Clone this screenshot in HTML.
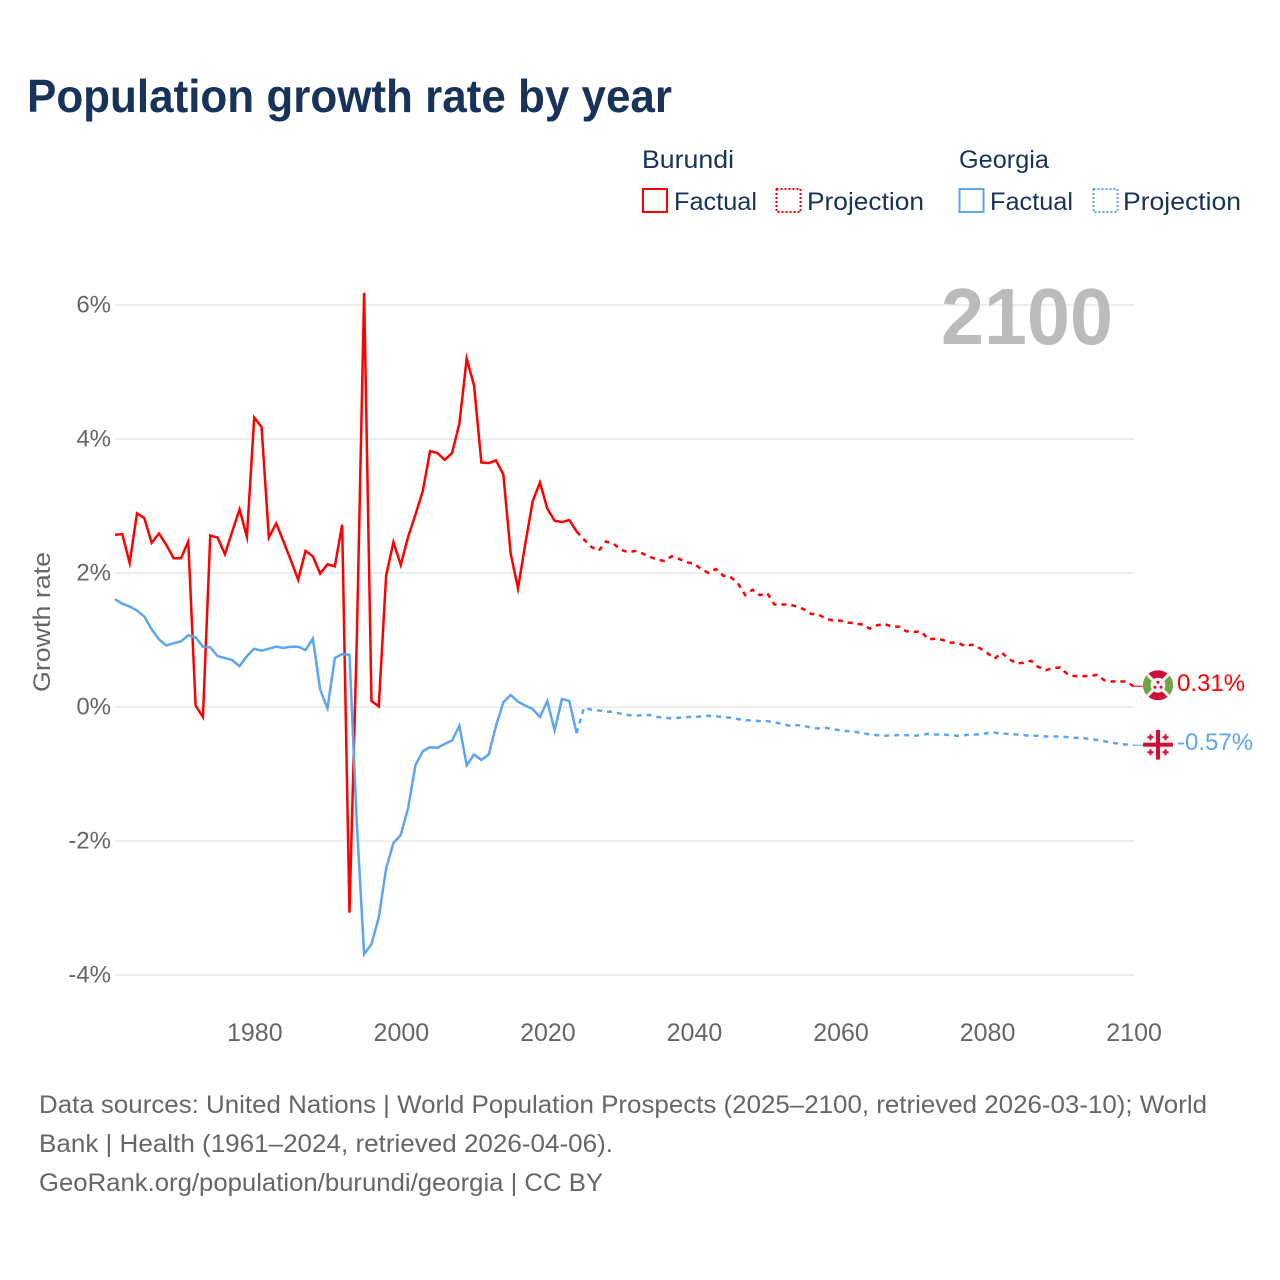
<!DOCTYPE html>
<html lang="en">
<head>
<meta charset="utf-8">
<title>Population growth rate by year</title>
<style>
  html, body { margin: 0; padding: 0; background: #fff; }
  svg { display: block; font-family: "Liberation Sans", sans-serif; }
</style>
</head>
<body>
<svg id="chart" xmlns="http://www.w3.org/2000/svg" width="1280" height="1280" viewBox="0 0 1280 1280">
  <rect x="0" y="0" width="1280" height="1280" fill="#ffffff"/>
  <text x="27" y="112" font-size="46" font-weight="700" fill="#17335a" textLength="645" lengthAdjust="spacingAndGlyphs">Population growth rate by year</text>

  <g font-size="25" fill="#17335a">
    <text x="642" y="168" textLength="92" lengthAdjust="spacingAndGlyphs">Burundi</text>
    <text x="959" y="168" textLength="90" lengthAdjust="spacingAndGlyphs">Georgia</text>
    <g>
      <rect x="643" y="189" width="24" height="23" fill="none" stroke="#ff0000" stroke-width="2"/>
      <text x="674" y="210" textLength="83" lengthAdjust="spacingAndGlyphs">Factual</text>
    </g>
    <g>
      <rect x="776.5" y="189" width="24" height="23" fill="none" stroke="#ff0000" stroke-width="2" stroke-dasharray="2 2"/>
      <text x="807" y="210" textLength="117" lengthAdjust="spacingAndGlyphs">Projection</text>
    </g>
    <g>
      <rect x="959.5" y="189" width="24" height="23" fill="none" stroke="#5da5ee" stroke-width="2"/>
      <text x="990" y="210" textLength="83" lengthAdjust="spacingAndGlyphs">Factual</text>
    </g>
    <g>
      <rect x="1093.5" y="189" width="24" height="23" fill="none" stroke="#5da5ee" stroke-width="2" stroke-dasharray="2 2"/>
      <text x="1123" y="210" textLength="118" lengthAdjust="spacingAndGlyphs">Projection</text>
    </g>
  </g>

  <g id="grid"></g>
  <g id="y-ticks"></g>
  <g id="x-ticks"></g>
  <text transform="translate(50,622) rotate(-90)" text-anchor="middle" font-size="24" fill="#666666" textLength="140" lengthAdjust="spacingAndGlyphs">Growth rate</text>
  <text x="941" y="344" font-size="80" font-weight="700" fill="#bbbbbb" textLength="172" lengthAdjust="spacingAndGlyphs">2100</text>

  <g id="series"></g>

  <defs>
    <clipPath id="flag-clip"><circle cx="0" cy="0" r="15"/></clipPath>
  </defs>
  <g id="flag-burundi">
    <g clip-path="url(#flag-clip)">
      <rect x="-15" y="-15" width="30" height="30" fill="#ce1038"/>
      <polygon points="-15,-15 0,0 -15,15" fill="#6da544"/>
      <polygon points="15,-15 0,0 15,15" fill="#6da544"/>
      <line x1="-15" y1="-15" x2="15" y2="15" stroke="#f0f0f0" stroke-width="3"/>
      <line x1="-15" y1="15" x2="15" y2="-15" stroke="#f0f0f0" stroke-width="3"/>
      <circle cx="0" cy="0" r="7.5" fill="#f0f0f0"/>
      <circle cx="0" cy="-3" r="1.5" fill="#ce1038"/>
      <circle cx="-3" cy="2" r="1.5" fill="#ce1038"/>
      <circle cx="3" cy="2" r="1.5" fill="#ce1038"/>
    </g>
  </g>
  <g id="flag-georgia">
    <g clip-path="url(#flag-clip)">
      <rect x="-15" y="-15" width="30" height="30" fill="#f0f0f0"/>
      <rect x="-15" y="-2" width="30" height="4" fill="#ce1038"/>
      <rect x="-2" y="-15" width="4" height="30" fill="#ce1038"/>
      <path d="M-8.5 -10.5h2v2h2v2h-2v2h-2v-2h-2v-2h2z" fill="#ce1038"/>
      <path d="M6.5 -10.5h2v2h2v2h-2v2h-2v-2h-2v-2h2z" fill="#ce1038"/>
      <path d="M-8.5 4.5h2v2h2v2h-2v2h-2v-2h-2v-2h2z" fill="#ce1038"/>
      <path d="M6.5 4.5h2v2h2v2h-2v2h-2v-2h-2v-2h2z" fill="#ce1038"/>
    </g>
  </g>
  <g id="end-labels"></g>

  <g font-size="25" fill="#666666">
    <text x="39" y="1113" textLength="1168" lengthAdjust="spacingAndGlyphs">Data sources: United Nations | World Population Prospects (2025–2100, retrieved 2026-03-10); World</text>
    <text x="39" y="1152" textLength="574" lengthAdjust="spacingAndGlyphs">Bank | Health (1961–2024, retrieved 2026-04-06).</text>
    <a><text x="39" y="1191" textLength="564" lengthAdjust="spacingAndGlyphs">GeoRank.org/population/burundi/georgia | CC BY</text></a>
  </g>
</svg>

<script>
const yTicks = [6, 4, 2, 0, -2, -4];
const xTicks = [1980, 2000, 2020, 2040, 2060, 2080, 2100];
const factualStart = 1961;
const projectionStart = 2024;

const burundiFactual = [
  2.57, 2.58, 2.15, 2.89, 2.82, 2.45, 2.59, 2.42, 2.22, 2.22,
  2.47, 0.02, -0.15, 2.56, 2.53, 2.28, 2.62, 2.95, 2.54, 4.32,
  4.18, 2.53, 2.74, 2.47, 2.19, 1.90, 2.33, 2.25, 1.99, 2.13,
  2.10, 2.72, -3.07, 1.00, 6.18, 0.09, 0.01, 1.96, 2.46, 2.12,
  2.54, 2.87, 3.22, 3.82, 3.79, 3.69, 3.79, 4.23, 5.20, 4.80,
  3.65, 3.64, 3.68, 3.47, 2.29, 1.77, 2.44, 3.07, 3.35, 2.96,
  2.78, 2.76, 2.79, 2.62
];
const burundiProjection = [
  2.62, 2.50, 2.39, 2.33, 2.47, 2.44, 2.35, 2.31, 2.33, 2.29,
  2.24, 2.20, 2.18, 2.25, 2.21, 2.16, 2.14, 2.06, 2.00, 2.06,
  1.96, 1.94, 1.85, 1.67, 1.75, 1.67, 1.70, 1.53, 1.53, 1.53,
  1.50, 1.46, 1.39, 1.38, 1.32, 1.29, 1.29, 1.26, 1.25, 1.23,
  1.17, 1.22, 1.24, 1.20, 1.20, 1.13, 1.12, 1.13, 1.01, 1.02,
  1.00, 0.96, 0.96, 0.91, 0.93, 0.88, 0.81, 0.72, 0.81, 0.72,
  0.65, 0.66, 0.69, 0.60, 0.55, 0.58, 0.59, 0.49, 0.46, 0.46,
  0.46, 0.48, 0.40, 0.38, 0.38, 0.38, 0.31
];
const georgiaFactual = [
  1.61, 1.54, 1.50, 1.44, 1.35, 1.16, 1.01, 0.92, 0.95, 0.98,
  1.07, 1.04, 0.90, 0.89, 0.76, 0.73, 0.70, 0.61, 0.76, 0.87,
  0.84, 0.87, 0.90, 0.88, 0.90, 0.90, 0.85, 1.02, 0.26, -0.02,
  0.73, 0.79, 0.78, -1.73, -3.69, -3.54, -3.14, -2.41, -2.03, -1.91,
  -1.51, -0.87, -0.66, -0.60, -0.61, -0.55, -0.50, -0.28, -0.87, -0.71,
  -0.79, -0.71, -0.28, 0.07, 0.18, 0.08, 0.02, -0.03, -0.15, 0.09,
  -0.35, 0.12, 0.09, -0.39
];
const georgiaProjection = [
  -0.39, -0.01, -0.04, -0.05, -0.07, -0.07, -0.10, -0.12, -0.13, -0.12,
  -0.12, -0.15, -0.16, -0.17, -0.16, -0.15, -0.15, -0.14, -0.13, -0.14,
  -0.15, -0.16, -0.18, -0.20, -0.20, -0.21, -0.21, -0.23, -0.25, -0.28,
  -0.27, -0.28, -0.31, -0.32, -0.31, -0.33, -0.35, -0.36, -0.37, -0.39,
  -0.41, -0.42, -0.43, -0.42, -0.42, -0.42, -0.43, -0.42, -0.40, -0.41,
  -0.41, -0.42, -0.43, -0.42, -0.41, -0.41, -0.39, -0.38, -0.40, -0.40,
  -0.41, -0.42, -0.43, -0.43, -0.44, -0.44, -0.44, -0.45, -0.46, -0.46,
  -0.48, -0.49, -0.51, -0.53, -0.55, -0.56, -0.57
];
const burundiEndLabel = "0.31%";
const georgiaEndLabel = "-0.57%";

const NS = "http://www.w3.org/2000/svg";
const xOf = function (year) { return 115 + (year - 1961) * (1133.5 - 115) / (2100 - 1961); };
const yOf = function (value) { return 707 - value * 67; };

function make(tag, parentId) {
  const el = document.createElementNS(NS, tag);
  document.getElementById(parentId).appendChild(el);
  return el;
}

function linePath(values, startYear) {
  return values.map(function (v, i) {
    return (i === 0 ? "M" : "L") + xOf(startYear + i).toFixed(2) + " " + yOf(v).toFixed(2);
  }).join(" ");
}

yTicks.forEach(function (t) {
  const g = make("line", "grid");
  
  
  g.setAttribute("x1", xOf(1961));
  g.setAttribute("x2", xOf(2100));
  g.setAttribute("y1", yOf(t));
  g.setAttribute("y2", yOf(t));
  g.setAttribute("stroke", "#e8e8e8");
  g.setAttribute("stroke-width", "1.5");

  const lab = make("text", "y-ticks");
  
  
  lab.setAttribute("x", 111);
  lab.setAttribute("y", yOf(t) + 7.5);
  lab.setAttribute("text-anchor", "end");
  lab.setAttribute("font-size", "24");
  lab.setAttribute("fill", "#666666");
  lab.textContent = t + "%";
});

xTicks.forEach(function (t) {
  const lab = make("text", "x-ticks");
  
  
  lab.setAttribute("x", xOf(t) + 0.6);
  lab.setAttribute("y", 1041);
  lab.setAttribute("text-anchor", "middle");
  lab.setAttribute("font-size", "25");
  lab.setAttribute("fill", "#666666");
  lab.textContent = t;
});

function addLine(name, values, startYear, color, dashed) {
  const p = make("path", "series");
  
  
  p.setAttribute("d", linePath(values, startYear));
  p.setAttribute("fill", "none");
  p.setAttribute("stroke", color);
  p.setAttribute("stroke-width", "2.5");
  p.setAttribute("stroke-linejoin", "miter");
  p.setAttribute("stroke-miterlimit", "10");
  if (dashed) { p.setAttribute("stroke-dasharray", "5 5"); }
}

addLine('burundi-factual-line', burundiFactual, factualStart, "#ff0000", false);
addLine('georgia-factual-line', georgiaFactual, factualStart, "#5da5ee", false);
addLine('burundi-projection-line', burundiProjection, projectionStart, "#ff0000", true);
addLine('georgia-projection-line', georgiaProjection, projectionStart, "#5da5ee", true);

function addEnd(name, values, flagId, label, color, flagDy) {
  const last = values[values.length - 1];
  const y = yOf(last);
  const c = make("line", "series");
  
  
  c.setAttribute("x1", xOf(2100));
  c.setAttribute("x2", 1144);
  c.setAttribute("y1", y);
  c.setAttribute("y2", y);
  c.setAttribute("stroke", color);
  c.setAttribute("stroke-width", "1");
  document.getElementById(flagId).setAttribute("transform", "translate(1158," + (y + flagDy) + ")");
  const t = make("text", "end-labels");
  
  
  t.setAttribute("x", 1177);
  t.setAttribute("y", y + 5);
  t.setAttribute("font-size", "24");
  t.setAttribute("fill", color);
  t.textContent = label;
}

addEnd('burundi', burundiProjection, "flag-burundi", burundiEndLabel, "#ff0000", -1);
addEnd('georgia', georgiaProjection, "flag-georgia", georgiaEndLabel, "#5da5ee", -0.5);
</script>
</body>
</html>
